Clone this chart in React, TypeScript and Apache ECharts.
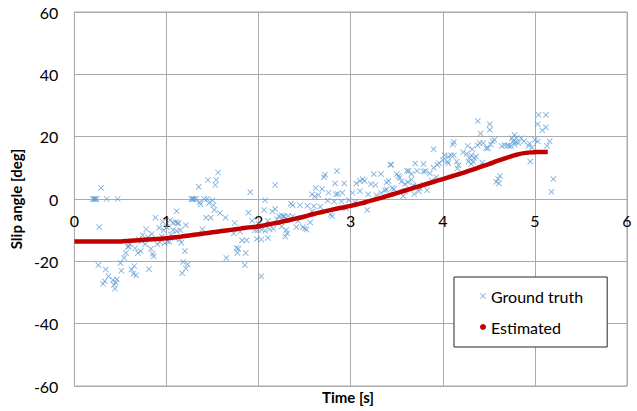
import React, { useEffect, useRef } from "react";
import * as echarts from "echarts";

const xTicks = [0, 1, 2, 3, 4, 5, 6];
const yTicks = [-60, -40, -20, 0, 20, 40, 60];

const estimatedTime = [
  0, 0.1, 0.2, 0.3, 0.4, 0.5, 0.6, 0.7, 0.8, 0.9, 1.0, 1.1, 1.2, 1.3, 1.4, 1.5, 1.6, 1.7, 1.8, 1.9,
  2.0, 2.1, 2.2, 2.3, 2.4, 2.5, 2.6, 2.7, 2.8, 2.9, 3.0, 3.1, 3.2, 3.3, 3.4, 3.5, 3.6, 3.7, 3.8, 3.9,
  4.0, 4.1, 4.2, 4.3, 4.4, 4.5, 4.6, 4.7, 4.8, 4.9, 5.0, 5.1, 5.14,
];
const estimatedAngle = [
  -13.6, -13.6, -13.6, -13.6, -13.6, -13.6, -13.4, -13.2, -13.0, -12.8, -12.6, -12.3, -11.9, -11.5,
  -11.1, -10.7, -10.3, -9.9, -9.5, -9.1, -8.8, -8.2, -7.6, -7.0, -6.3, -5.6, -4.8, -4.1, -3.4, -2.8,
  -2.2, -1.5, -0.7, 0.1, 1.0, 1.9, 2.8, 3.7, 4.6, 5.5, 6.4, 7.3, 8.2, 9.2, 10.2, 11.2, 12.3, 13.3,
  14.2, 14.8, 15.0, 15.1, 15.1,
];

const groundTruth: [number, number][] = [
  [0.2, 0], [0.21, 0], [0.22, 0], [0.23, 0], [0.24, 0], [0.29, 3.6], [0.35, 0], [0.47, 0], [0.27, -9],
  [0.26, -21.2], [0.34, -22.6], [0.37, -24.8], [0.33, -26.4], [0.31, -27.2], [0.42, -26], [0.43, -27.5],
  [0.44, -28.8], [0.45, -26.8], [0.46, -25.8],
  [0.5, -20.5], [0.51, -23], [0.54, -18.9], [0.56, -17.3], [0.58, -15.4], [0.6, -14.5], [0.62, -22.6],
  [0.65, -21.5], [0.64, -24], [0.67, -24.5], [0.69, -17.3], [0.72, -16.7], [0.7, -12.9], [0.74, -11.6],
  [0.78, -9.7], [0.77, -14.5], [0.81, -22.5], [0.83, -16], [0.85, -17.6], [0.86, -18.4], [0.88, -6],
  [0.9, -14.5], [0.92, -9.2], [0.96, -7.3], [0.97, -10], [0.95, -12], [1.01, -13.5], [1.03, -13.7],
  [0.59, -15.2], [0.66, -15.8], [0.73, -13.5], [0.8, -12.3], [0.84, -11.2], [0.93, -13.8], [0.98, -14.2],
  [1.11, -3.9], [1.07, -7.6], [1.1, -7.4], [1.13, -7.8], [1.07, -10], [1.11, -10.3], [1.15, -10],
  [1.12, -7.7], [1.21, -8.4], [1.16, -14], [1.2, -16.7], [1.18, -20.2], [1.21, -22.3], [1.17, -23.8],
  [1.23, -21], [1.05, -11.5], [1.09, -12.5], [1.14, -13], [1.0, -9], [1.04, -6.8],
  [1.56, 8.5], [1.45, 6.1], [1.54, 6.1], [1.35, 3.9], [1.27, 0], [1.28, 0], [1.29, 0], [1.3, 0],
  [1.32, 0], [1.41, 0], [1.44, 0], [1.37, -1.7], [1.5, -0.4], [1.51, -2], [1.52, -3.5], [1.43, -6],
  [1.48, -6], [1.39, -9.7], [1.36, -1], [1.46, -1.3], [1.53, 4.5], [1.58, -4.5],
  [1.64, -6], [1.74, -7.7], [1.91, 2.2], [1.89, -4.4], [1.93, -7], [1.73, -11], [1.8, -10.5],
  [1.82, -13.3], [1.87, -13.2], [1.78, -16], [1.77, -17.3], [1.86, -17.3], [1.65, -18.9], [1.85, -21.2],
  [1.76, -15.7], [1.96, -10], [1.98, -12.8],
  [2.18, 4.5], [2.07, -0.4], [2.06, -3.5], [2.15, -4], [2.18, -3.2], [2.22, -5.5], [2.25, -5.3],
  [2.28, -5.6], [1.99, -10], [2.03, -9.8], [2.07, -10.2], [2.12, -9.7], [2.16, -9.5], [2.03, -13],
  [2.1, -12.5], [2.3, -10], [2.31, -11], [2.03, -24.8], [2.0, -8], [2.1, -7], [2.2, -6.5], [2.25, -8.8],
  [2.27, -5.5], [2.32, -5.4], [2.37, -5.6], [2.35, -1.5], [2.37, -2], [2.45, -2], [2.53, -2.2],
  [2.6, -2.3], [2.41, -9], [2.48, -9], [2.5, -9.5], [2.52, -9.8], [2.29, -12], [2.43, -7], [2.56, -7.5],
  [2.58, -4],
  [2.85, 9], [2.71, 7], [2.72, 7.8], [2.83, 5], [2.93, 5], [2.62, 3.5], [2.69, 3.2], [2.58, 1.5],
  [2.61, 0.8], [2.65, 1.3], [2.76, 2], [2.84, 1.5], [2.86, 1.6], [2.91, 2], [2.78, -5], [2.8, -5.5],
  [2.75, -0.5], [2.82, -0.8], [2.9, -0.8], [2.98, -0.3], [2.67, -2.5], [2.95, -3],
  [3.02, 2], [3.06, 5], [3.1, 2.5], [3.1, 5.8], [3.13, 6.3], [3.15, 5.8], [3.25, 8], [3.33, 8],
  [3.22, 4.8], [3.27, 4.5], [3.41, 5.8], [3.43, 11], [3.19, 1.5], [3.28, 1.2], [3.33, 2], [3.37, 2.8],
  [3.18, -3.5], [3.05, -1], [3.39, 5.3], [3.44, 11], [3.39, 3], [3.45, 3.5], [3.47, 3.2],
  [3.5, 8], [3.52, 7.4], [3.53, 6.8], [3.55, 5.6], [3.59, 4.8], [3.62, 5.4], [3.66, 6.2], [3.68, 4.4],
  [3.72, 4], [3.75, 3.5], [3.79, 4.6], [3.57, 1], [3.59, 2.5], [3.69, 1.6], [3.74, 2.5], [3.83, 2.8],
  [3.61, 9], [3.63, 9], [3.66, 8], [3.72, 9], [3.79, 8.8], [3.81, 9], [3.86, 8.2], [3.7, 11.4],
  [3.79, 11.2], [3.9, 10], [3.94, 11], [3.96, 11.5], [3.9, 16], [3.88, 6], [3.93, 7],
  [4.11, 17.5], [4.12, 18.3], [4.27, 17], [4.32, 16], [4.38, 17.2], [4.44, 18], [4.22, 15], [4.26, 14.5],
  [4.31, 14], [4.29, 13], [4.34, 13.2], [4.33, 12], [4.02, 14], [4.06, 13.6], [4.09, 14], [4.12, 14],
  [4.0, 12.5], [4.05, 12], [4.06, 11.5], [4.15, 12], [4.17, 10.8], [4.16, 9.8], [4.28, 12], [4.31, 11.2],
  [4.38, 25], [4.41, 21], [4.36, 13.6], [4.43, 11.7], [4.4, 18],
  [4.51, 22.2], [4.51, 24], [4.52, 17.5], [4.54, 18.5], [4.56, 19], [4.47, 16.3], [4.49, 16.3],
  [4.64, 17], [4.67, 17.3], [4.7, 17.2], [4.72, 17], [4.74, 17], [4.75, 19.5], [4.78, 20.5], [4.8, 19.5],
  [4.85, 19.5], [4.76, 18.6], [4.79, 18.3], [4.82, 18], [4.78, 17.5], [4.88, 18.5], [4.93, 17],
  [4.94, 17.8], [4.97, 16.5], [5.0, 19], [5.03, 18.5], [5.04, 27], [5.12, 27], [5.03, 24], [5.12, 23],
  [5.08, 22], [5.13, 17], [5.16, 18.5], [4.95, 12], [4.58, 5.5], [4.6, 6.5], [4.61, 5], [4.62, 7.4],
  [5.2, 6.4], [5.18, 2.3],
];

const crossIcon =
  "path://M0,1L1,0L5,4L9,0L10,1L6,5L10,9L9,10L5,6L1,10L0,9L4,5Z";
const FONT = "Lato, 'Liberation Sans', sans-serif";
const GRID = "#ABABAB";

export default function App() {
  const ref = useRef<HTMLDivElement>(null);
  useEffect(() => {
    if (!ref.current) return;
    const chart = echarts.init(ref.current, undefined, { renderer: "svg" });
    chart.setOption({
      animation: false,
      backgroundColor: "#ffffff",
      textStyle: { fontFamily: FONT },
      grid: {
        left: 69,
        right: 10,
        top: 12,
        bottom: 25,
        show: true,
        borderColor: GRID,
        borderWidth: 1,
      },
      graphic: [
        {
          type: "text",
          left: 322,
          top: 389,
          style: {
            text: "Time [s]",
            fontSize: 15,
            fontWeight: "bold",
            fill: "#000",
            fontFamily: FONT,
          },
        },
      ],
      legend: {
        orient: "vertical",
        left: 454,
        top: 277,
        padding: [11, 24, 12, 26],
        itemGap: 15,
        itemWidth: 6,
        itemHeight: 6,
        borderColor: "#262626",
        borderWidth: 1,
        backgroundColor: "#ffffff",
        textStyle: { fontSize: 16, color: "#000", fontFamily: FONT },
        data: [
          { name: "Ground truth", icon: crossIcon },
          { name: "Estimated", icon: "circle" },
        ],
      },
      xAxis: {
        type: "value",
        position: "bottom",
        offset: -187,
        min: xTicks[0],
        max: xTicks[xTicks.length - 1],
        interval: 1,
        axisLine: { show: true, onZero: false, lineStyle: { color: GRID, width: 1 } },
        axisTick: { show: false },
        axisLabel: { fontSize: 16, color: "#000", margin: 13, fontFamily: FONT },
        splitLine: { show: true, lineStyle: { color: GRID, width: 1 } },
      },
      yAxis: {
        type: "value",
        min: yTicks[0],
        max: yTicks[yTicks.length - 1],
        interval: 20,
        axisLine: { show: true, onZero: false, lineStyle: { color: GRID } },
        axisTick: { show: false },
        axisLabel: { fontSize: 16, color: "#000", margin: 16, fontFamily: FONT },
        splitLine: { show: true, lineStyle: { color: GRID, width: 1 } },
        name: "Slip angle [deg]",
        nameLocation: "middle",
        nameGap: 34,
        nameRotate: 90,
        nameTextStyle: { fontSize: 15, fontWeight: "bold", color: "#000", fontFamily: FONT },
      },
      series: [
        {
          name: "Ground truth",
          type: "scatter",
          symbol: crossIcon,
          symbolSize: 6,
          itemStyle: { color: "#5B9BD5" },
          data: groundTruth,
          z: 3,
        },
        {
          name: "Estimated",
          type: "line",
          showSymbol: false,
          symbol: "circle",
          smooth: true,
          lineStyle: { color: "#C00000", width: 4.5 },
          itemStyle: { color: "#C00000" },
          data: estimatedTime.map((t, i) => [t, estimatedAngle[i]]),
          z: 4,
        },
      ],
    });
    return () => chart.dispose();
  }, []);
  return (
    <div
      ref={ref}
      style={{ position: "fixed", left: 0, top: 0, width: 637, height: 411 }}
    />
  );
}
